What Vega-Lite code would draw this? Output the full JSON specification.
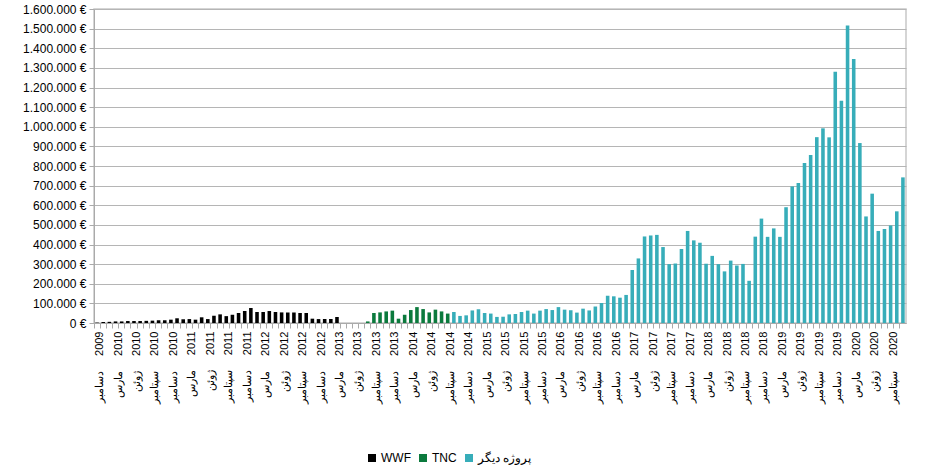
{
  "$schema": "https://vega.github.io/schema/vega-lite/v6.json",
  "autosize": "none",
  "width": 812,
  "height": 314,
  "padding": {"left": 94, "top": 9, "right": 19, "bottom": 145},
  "background": "white",
  "data": {"values": [
    {"m":"2009-12","v":2000,"p":"WWF"},
    {"m":"2010-01","v":5000,"p":"WWF"},{"m":"2010-02","v":6000,"p":"WWF"},{"m":"2010-03","v":8000,"p":"WWF"},{"m":"2010-04","v":8000,"p":"WWF"},{"m":"2010-05","v":10000,"p":"WWF"},{"m":"2010-06","v":10000,"p":"WWF"},{"m":"2010-07","v":10000,"p":"WWF"},{"m":"2010-08","v":11000,"p":"WWF"},{"m":"2010-09","v":12000,"p":"WWF"},{"m":"2010-10","v":14000,"p":"WWF"},{"m":"2010-11","v":14000,"p":"WWF"},{"m":"2010-12","v":17000,"p":"WWF"},
    {"m":"2011-01","v":24000,"p":"WWF"},{"m":"2011-02","v":19000,"p":"WWF"},{"m":"2011-03","v":20000,"p":"WWF"},{"m":"2011-04","v":17000,"p":"WWF"},{"m":"2011-05","v":29000,"p":"WWF"},{"m":"2011-06","v":20000,"p":"WWF"},{"m":"2011-07","v":37000,"p":"WWF"},{"m":"2011-08","v":44000,"p":"WWF"},{"m":"2011-09","v":35000,"p":"WWF"},{"m":"2011-10","v":42000,"p":"WWF"},{"m":"2011-11","v":51000,"p":"WWF"},{"m":"2011-12","v":61000,"p":"WWF"},
    {"m":"2012-01","v":76000,"p":"WWF"},{"m":"2012-02","v":56000,"p":"WWF"},{"m":"2012-03","v":56000,"p":"WWF"},{"m":"2012-04","v":61000,"p":"WWF"},{"m":"2012-05","v":56000,"p":"WWF"},{"m":"2012-06","v":54000,"p":"WWF"},{"m":"2012-07","v":54000,"p":"WWF"},{"m":"2012-08","v":53000,"p":"WWF"},{"m":"2012-09","v":51000,"p":"WWF"},{"m":"2012-10","v":51000,"p":"WWF"},{"m":"2012-11","v":22000,"p":"WWF"},{"m":"2012-12","v":20000,"p":"WWF"},
    {"m":"2013-01","v":20000,"p":"WWF"},{"m":"2013-02","v":20000,"p":"WWF"},{"m":"2013-03","v":30000,"p":"WWF"},{"m":"2013-04","v":0,"p":"WWF"},{"m":"2013-05","v":0,"p":"WWF"},{"m":"2013-06","v":0,"p":"WWF"},{"m":"2013-07","v":0,"p":"WWF"},{"m":"2013-08","v":8000,"p":"TNC"},{"m":"2013-09","v":51000,"p":"TNC"},{"m":"2013-10","v":54000,"p":"TNC"},{"m":"2013-11","v":59000,"p":"TNC"},{"m":"2013-12","v":63000,"p":"TNC"},
    {"m":"2014-01","v":22000,"p":"TNC"},{"m":"2014-02","v":42000,"p":"TNC"},{"m":"2014-03","v":66000,"p":"TNC"},{"m":"2014-04","v":81000,"p":"TNC"},{"m":"2014-05","v":71000,"p":"TNC"},{"m":"2014-06","v":54000,"p":"TNC"},{"m":"2014-07","v":68000,"p":"TNC"},{"m":"2014-08","v":59000,"p":"TNC"},{"m":"2014-09","v":48000,"p":"TNC"},{"m":"2014-10","v":56000,"p":"پروژه دیگر"},{"m":"2014-11","v":36000,"p":"پروژه دیگر"},{"m":"2014-12","v":39000,"p":"پروژه دیگر"},
    {"m":"2015-01","v":64000,"p":"پروژه دیگر"},{"m":"2015-02","v":70000,"p":"پروژه دیگر"},{"m":"2015-03","v":51000,"p":"پروژه دیگر"},{"m":"2015-04","v":48000,"p":"پروژه دیگر"},{"m":"2015-05","v":31000,"p":"پروژه دیگر"},{"m":"2015-06","v":32000,"p":"پروژه دیگر"},{"m":"2015-07","v":44000,"p":"پروژه دیگر"},{"m":"2015-08","v":46000,"p":"پروژه دیگر"},{"m":"2015-09","v":56000,"p":"پروژه دیگر"},{"m":"2015-10","v":63000,"p":"پروژه دیگر"},{"m":"2015-11","v":48000,"p":"پروژه دیگر"},{"m":"2015-12","v":63000,"p":"پروژه دیگر"},
    {"m":"2016-01","v":71000,"p":"پروژه دیگر"},{"m":"2016-02","v":66000,"p":"پروژه دیگر"},{"m":"2016-03","v":81000,"p":"پروژه دیگر"},{"m":"2016-04","v":68000,"p":"پروژه دیگر"},{"m":"2016-05","v":65000,"p":"پروژه دیگر"},{"m":"2016-06","v":53000,"p":"پروژه دیگر"},{"m":"2016-07","v":73000,"p":"پروژه دیگر"},{"m":"2016-08","v":64000,"p":"پروژه دیگر"},{"m":"2016-09","v":84000,"p":"پروژه دیگر"},{"m":"2016-10","v":102000,"p":"پروژه دیگر"},{"m":"2016-11","v":139000,"p":"پروژه دیگر"},{"m":"2016-12","v":136000,"p":"پروژه دیگر"},
    {"m":"2017-01","v":129000,"p":"پروژه دیگر"},{"m":"2017-02","v":143000,"p":"پروژه دیگر"},{"m":"2017-03","v":270000,"p":"پروژه دیگر"},{"m":"2017-04","v":329000,"p":"پروژه دیگر"},{"m":"2017-05","v":441000,"p":"پروژه دیگر"},{"m":"2017-06","v":446000,"p":"پروژه دیگر"},{"m":"2017-07","v":449000,"p":"پروژه دیگر"},{"m":"2017-08","v":387000,"p":"پروژه دیگر"},{"m":"2017-09","v":300000,"p":"پروژه دیگر"},{"m":"2017-10","v":303000,"p":"پروژه دیگر"},{"m":"2017-11","v":377000,"p":"پروژه دیگر"},{"m":"2017-12","v":469000,"p":"پروژه دیگر"},
    {"m":"2018-01","v":421000,"p":"پروژه دیگر"},{"m":"2018-02","v":409000,"p":"پروژه دیگر"},{"m":"2018-03","v":302000,"p":"پروژه دیگر"},{"m":"2018-04","v":342000,"p":"پروژه دیگر"},{"m":"2018-05","v":300000,"p":"پروژه دیگر"},{"m":"2018-06","v":263000,"p":"پروژه دیگر"},{"m":"2018-07","v":318000,"p":"پروژه دیگر"},{"m":"2018-08","v":293000,"p":"پروژه دیگر"},{"m":"2018-09","v":301000,"p":"پروژه دیگر"},{"m":"2018-10","v":215000,"p":"پروژه دیگر"},{"m":"2018-11","v":440000,"p":"پروژه دیگر"},{"m":"2018-12","v":532000,"p":"پروژه دیگر"},
    {"m":"2019-01","v":439000,"p":"پروژه دیگر"},{"m":"2019-02","v":482000,"p":"پروژه دیگر"},{"m":"2019-03","v":439000,"p":"پروژه دیگر"},{"m":"2019-04","v":590000,"p":"پروژه دیگر"},{"m":"2019-05","v":696000,"p":"پروژه دیگر"},{"m":"2019-06","v":713000,"p":"پروژه دیگر"},{"m":"2019-07","v":815000,"p":"پروژه دیگر"},{"m":"2019-08","v":856000,"p":"پروژه دیگر"},{"m":"2019-09","v":947000,"p":"پروژه دیگر"},{"m":"2019-10","v":992000,"p":"پروژه دیگر"},{"m":"2019-11","v":946000,"p":"پروژه دیگر"},{"m":"2019-12","v":1280000,"p":"پروژه دیگر"},
    {"m":"2020-01","v":1132000,"p":"پروژه دیگر"},{"m":"2020-02","v":1516000,"p":"پروژه دیگر"},{"m":"2020-03","v":1345000,"p":"پروژه دیگر"},{"m":"2020-04","v":917000,"p":"پروژه دیگر"},{"m":"2020-05","v":543000,"p":"پروژه دیگر"},{"m":"2020-06","v":659000,"p":"پروژه دیگر"},{"m":"2020-07","v":469000,"p":"پروژه دیگر"},{"m":"2020-08","v":479000,"p":"پروژه دیگر"},{"m":"2020-09","v":497000,"p":"پروژه دیگر"},{"m":"2020-10","v":569000,"p":"پروژه دیگر"},{"m":"2020-11","v":742000,"p":"پروژه دیگر"}
  ]},
  "mark": {"type": "bar"},
  "encoding": {
    "x": {
      "field": "m", "type": "ordinal", "sort": null,
      "scale": {"paddingInner": 0.42, "paddingOuter": 0.21},
      "axis": {
        "title": null,
        "labelAngle": 270,
        "labelFontSize": 11,
        "labelColor": "#000000",
        "labelPadding": 3,
        "bandPosition": -0.36,
        "labelOffset": 3,
        "tickSize": 5,
        "tickColor": "#aaaaaa",
        "domainColor": "#aaaaaa",
        "labelExpr": "!isString(datum.value) ? '' : indexof(['03','06','09','12'], slice(datum.value,5)) < 0 ? '' : ((slice(datum.value,5) == '03' ? 'مارس' : slice(datum.value,5) == '06' ? 'ژوئن' : slice(datum.value,5) == '09' ? 'سپتامبر' : 'دسامبر') + '\u200e\u00a0\u00a0\u00a0\u00a0\u00a0' + slice(datum.value,0,4))"
      }
    },
    "y": {
      "field": "v", "type": "quantitative",
      "scale": {"domain": [0, 1600000], "nice": false},
      "axis": {
        "title": null,
        "values": [0,100000,200000,300000,400000,500000,600000,700000,800000,900000,1000000,1100000,1200000,1300000,1400000,1500000,1600000],
        "format": "$,.0f",
        "labelFontSize": 12,
        "labelColor": "#000000",
        "tickSize": 5,
        "tickColor": "#aaaaaa",
        "domainColor": "#aaaaaa",
        "gridColor": "#b5b5b5",
        "labelPadding": 3
      }
    },
    "color": {
      "field": "p", "type": "nominal",
      "scale": {"domain": ["WWF", "TNC", "پروژه دیگر"], "range": ["#000000", "#0b7a3d", "#37adb9"]},
      "legend": {
        "title": null,
        "orient": "none",
        "legendX": 272,
        "legendY": 443,
        "direction": "horizontal",
        "symbolType": "square",
        "symbolSize": 64,
        "symbolStrokeWidth": 0,
        "labelFontSize": 12,
        "labelColor": "#000000",
        "labelOffset": 3,
        "columnPadding": 6
      }
    }
  },
  "config": {
    "font": "Liberation Sans",
    "locale": {"number": {"decimal": ",", "thousands": ".", "grouping": [3], "currency": ["", " €"]}},
    "view": {"stroke": "#c8c8c8", "strokeWidth": 1.5}
  }
}
